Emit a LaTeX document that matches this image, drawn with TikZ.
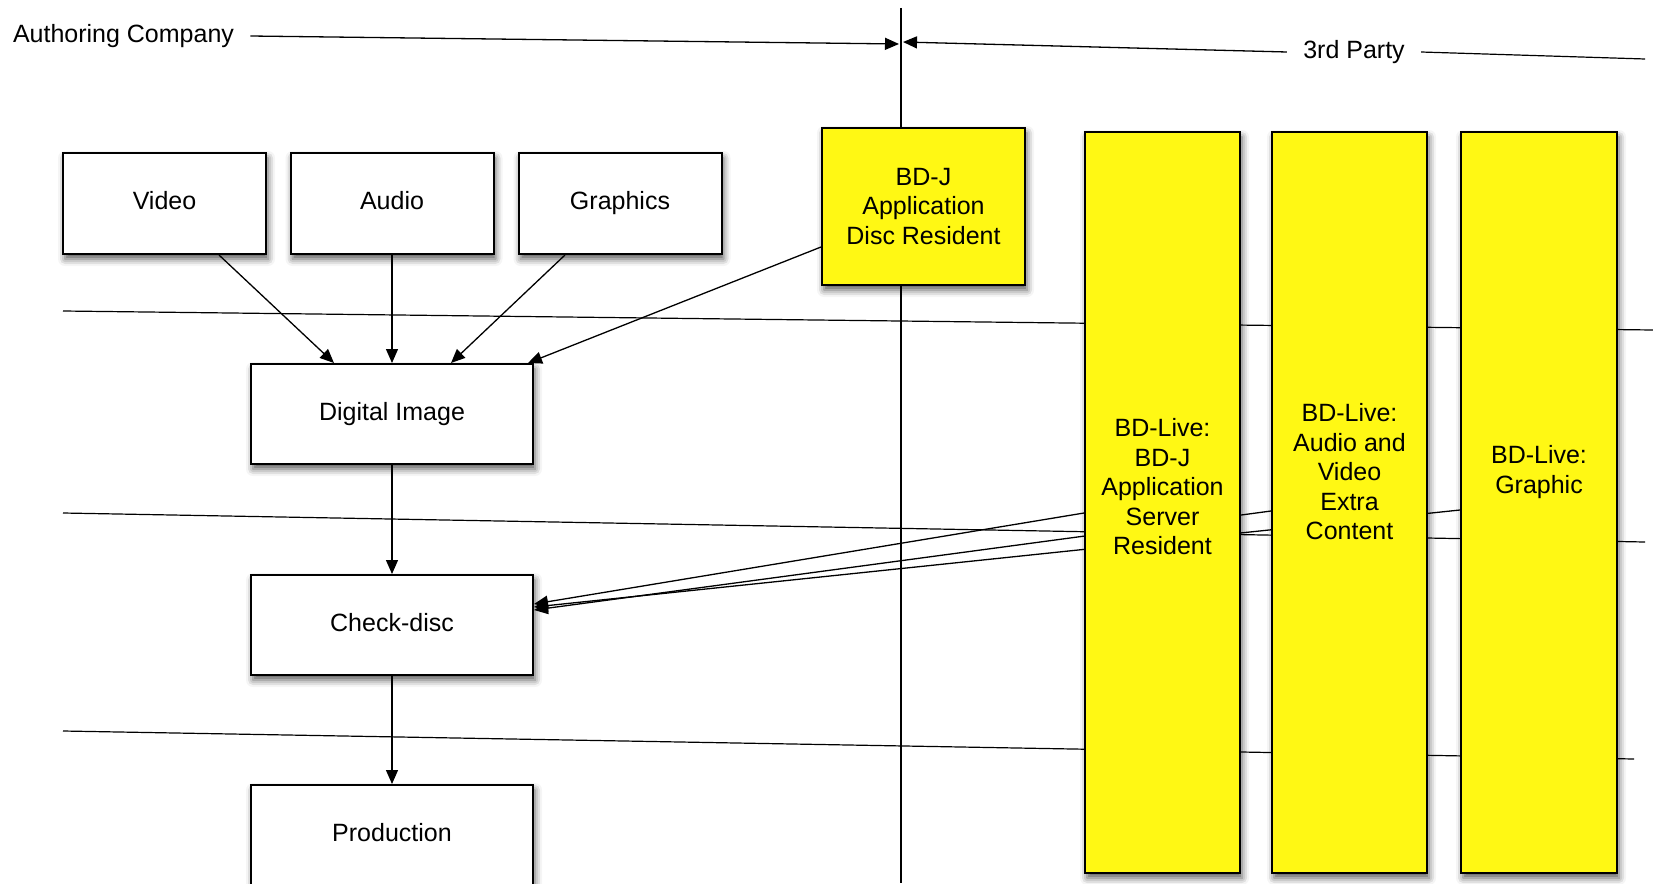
\documentclass[tikz,border=0pt]{standalone}
\usepackage{fontspec}
\setmainfont{Liberation Sans}
\usetikzlibrary{arrows.meta, backgrounds, shadows.blur}
\definecolor{bdyellow}{RGB}{255,248,20}

\begin{document}
\begin{tikzpicture}[x=0.5pt, y=-0.5pt,
  font=\fontsize{12.5}{14.75}\selectfont,
  box/.style={draw, line width=1pt, fill=white, align=center, inner sep=0pt,
    blur shadow={shadow xshift=1pt, shadow yshift=-2.5pt, shadow blur radius=3.5pt, shadow opacity=65}},
  sbox/.style={box, text height=9pt, text depth=2.6pt},
  ybox/.style={box, fill=bdyellow},
  lbl/.style={inner xsep=8pt, inner ysep=1pt},
  arr/.style={line width=0.65pt, -{Triangle[length=7pt,width=6pt]}},
  sep/.style={line width=0.6pt}]
\useasboundingbox (0,0) rectangle (1653,883);

\node[lbl] (auth) at (123.5,36) {Authoring Company};
\node[lbl] (party) at (1354,52) {3rd Party};
\coordinate (divtop) at (901,8);
\coordinate (divbot) at (901,883);
\coordinate (divL) at (899,44);
\coordinate (divR) at (903,42);
\coordinate (partyend) at (1645,59);
\coordinate (sepa1) at (63,311);
\coordinate (sepa2) at (1653,330);
\coordinate (sepb1) at (63,513);
\coordinate (sepb2) at (1645,542);
\coordinate (sepc1) at (63,731);
\coordinate (sepc2) at (1634,759);

\node[sbox, minimum width=101.5pt, minimum height=50.5pt] (vid) at (164.5,203.5) {Video};
\node[sbox, minimum width=101.5pt, minimum height=50.5pt] (aud) at (392,203.5) {Audio};
\node[sbox, minimum width=101.5pt, minimum height=50.5pt] (gra) at (620,203.5) {Graphics};
\node[ybox, minimum width=101.5pt, minimum height=78.5pt] (disc) at (923.5,206.5) {BD-J\\Application\\Disc Resident};
\node[sbox, minimum width=141pt, minimum height=50pt] (img) at (392,414) {Digital Image};
\node[sbox, minimum width=141pt, minimum height=50pt] (chk) at (392,625) {Check-disc};
\node[sbox, minimum width=141pt, minimum height=50pt] (prod) at (392,835) {Production};

\node[ybox, minimum width=77.5pt, minimum height=370.5pt] (srv) at (1162.5,502.5) {};
\node[ybox, minimum width=77.5pt, minimum height=370.5pt] (avx) at (1349.5,502.5) {};
\node[ybox, minimum width=78pt, minimum height=370.5pt] (gfx) at (1539,502.5) {};
\node[align=center] (srvtxt) at ([yshift=7.75pt]srv.center) {BD-Live:\\BD-J\\Application\\Server\\Resident};
\node[align=center] (avxtxt) at ([yshift=15.25pt]avx.center) {BD-Live:\\Audio and\\Video\\Extra\\Content};
\node[align=center] (gfxtxt) at ([yshift=15.25pt]gfx.center) {BD-Live:\\Graphic};

\draw[arr] (auth.east) -- (divL);
\draw[arr] (party.west) -- (divR);
\draw[sep] (party.east) -- (partyend);

\draw[arr] ([xshift=27.25pt]vid.south) -- ([xshift=-29pt]img.north);
\draw[arr] (aud.south) -- (img.north);
\draw[arr] ([xshift=-27.5pt]gra.south) -- ([xshift=29.5pt]img.north);
\draw[arr] ([yshift=-20.25pt]disc.west) -- ([xshift=-3pt]img.north east);
\draw[arr] (img.south) -- (chk.north);
\draw[arr] (chk.south) -- (prod.north);

\begin{scope}[on background layer]
\draw[sep] (divtop) -- (divbot);
\draw[sep] (sepa1) -- (sepa2);
\draw[sep] (sepb1) -- (sepb2);
\draw[sep] (sepc1) -- (sepc2);
\draw[arr] ([yshift=-5.25pt]srv.west) -- ([yshift=10.5pt]chk.east);
\draw[arr] ([yshift=-4.25pt]avx.west) -- ([yshift=7.5pt]chk.east);
\draw[arr] ([yshift=-3.75pt]gfx.west) -- ([yshift=9pt]chk.east);
\end{scope}

\end{tikzpicture}
\end{document}
